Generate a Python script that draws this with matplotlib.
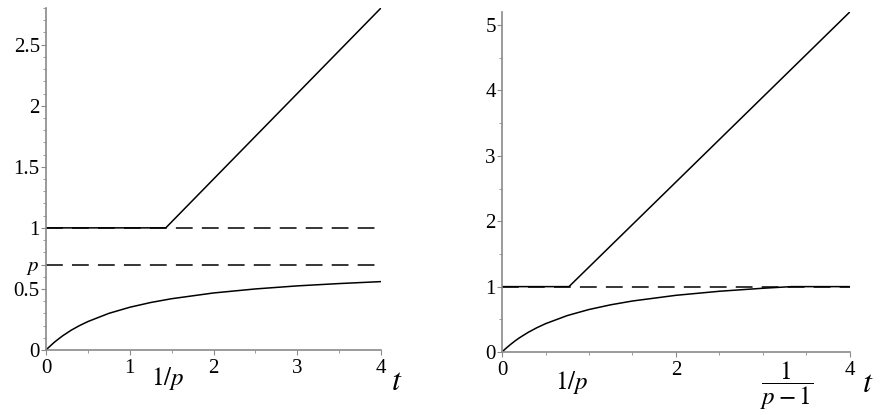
import matplotlib.pyplot as plt
from matplotlib.ticker import MultipleLocator, FixedLocator

plt.rcParams["font.family"] = "Liberation Serif"
plt.rcParams["mathtext.fontset"] = "stix"

# left panel (p = 0.7)
left_upper_t = [0, 1.43, 4]
left_upper_y = [1, 1, 2.8]
left_lower_t = [0, 0.025, 0.05, 0.1, 0.15, 0.2, 0.3, 0.4, 0.5, 0.75, 1, 1.25, 1.5, 2, 2.5, 3, 3.5, 4]
left_lower_y = [0, 0.017, 0.033, 0.064, 0.091, 0.117, 0.162, 0.20, 0.233, 0.30, 0.35, 0.389, 0.42, 0.467, 0.50, 0.525, 0.544, 0.56]
left_dash_levels = [1, 0.7]
left_xticks = [0, 1, 2, 3, 4]
left_yticks = [0, 0.5, 0.7, 1, 1.5, 2, 2.5]
left_ylabels = ["0", "0.5", "$p$", "1", "1.5", "2", "2.5"]

# right panel (p = 1.3)
right_upper_t = [0, 0.77, 4]
right_upper_y = [1, 1, 5.2]
right_lower_t = [0, 0.025, 0.05, 0.1, 0.15, 0.2, 0.3, 0.4, 0.5, 0.75, 1, 1.25, 1.5, 2, 2.5, 3, 3.33, 4]
right_lower_y = [0, 0.032, 0.062, 0.118, 0.170, 0.217, 0.30, 0.371, 0.433, 0.557, 0.65, 0.722, 0.78, 0.867, 0.929, 0.975, 1.0, 1.0]
right_dash_levels = [1]
right_xticks = [0, 2, 4]
right_yticks = [0, 1, 2, 3, 4, 5]

fig = plt.figure(figsize=(8.87, 4.15), dpi=100)
ax1 = fig.add_axes([0.0519, 0.1566, 0.3776, 0.8241])
ax2 = fig.add_axes([0.566, 0.1518, 0.392, 0.8192])

dash = (0, (11, 6))
axis_col = "#8a8a8a"

def style(ax):
    for s in ["top", "right"]:
        ax.spines[s].set_visible(False)
    for s in ["left", "bottom"]:
        ax.spines[s].set_color(axis_col)
        ax.spines[s].set_linewidth(1.2)
    ax.tick_params(which="both", direction="out", color=axis_col, labelsize=15)
    ax.tick_params(axis="x", which="both", pad=3)
    ax.tick_params(axis="y", which="both", pad=1)
    ax.tick_params(which="major", length=3.5)
    ax.tick_params(which="minor", length=2.5)

# left
for lv in left_dash_levels:
    ax1.plot([0, 4], [lv, lv], color="black", lw=1.1, linestyle=dash)
ax1.plot(left_upper_t, left_upper_y, color="black", lw=1.1)
ax1.plot(left_lower_t, left_lower_y, color="black", lw=1.1)
ax1.set_xlim(0, 4)
ax1.set_ylim(0, 2.8)
ax1.xaxis.set_major_locator(FixedLocator(left_xticks))
ax1.xaxis.set_minor_locator(MultipleLocator(0.5))
ax1.yaxis.set_major_locator(FixedLocator(left_yticks))
ax1.yaxis.set_minor_locator(MultipleLocator(0.1))
ax1.set_yticklabels(left_ylabels)
ax1.set_xticklabels([str(v) for v in left_xticks])
style(ax1)
ax1.text(1.45, -0.235, "$1/p$", fontsize=18, ha="center", va="center")
ax1.text(4.12, -0.27, "$t$", fontsize=23, ha="left", va="center")

# right
for lv in right_dash_levels:
    ax2.plot([0, 4], [lv, lv], color="black", lw=1.1, linestyle=dash)
ax2.plot(right_upper_t, right_upper_y, color="black", lw=1.1)
ax2.plot(right_lower_t, right_lower_y, color="black", lw=1.1)
ax2.set_xlim(0, 4)
ax2.set_ylim(0, 5.2)
ax2.xaxis.set_major_locator(FixedLocator(right_xticks))
ax2.xaxis.set_minor_locator(MultipleLocator(0.5))
ax2.yaxis.set_major_locator(FixedLocator(right_yticks))
ax2.yaxis.set_minor_locator(MultipleLocator(0.5))
ax2.set_xticklabels([str(v) for v in right_xticks])
ax2.set_yticklabels([str(v) for v in right_yticks])
style(ax2)
ax2.text(0.8, -0.47, "$1/p$", fontsize=18, ha="center", va="center")
ax2.text(3.27, -0.52, r"$\dfrac{1}{p-1}$", fontsize=18, ha="center", va="center")
ax2.text(4.14, -0.5, "$t$", fontsize=23, ha="left", va="center")

fig.savefig("out.png", dpi=100)
